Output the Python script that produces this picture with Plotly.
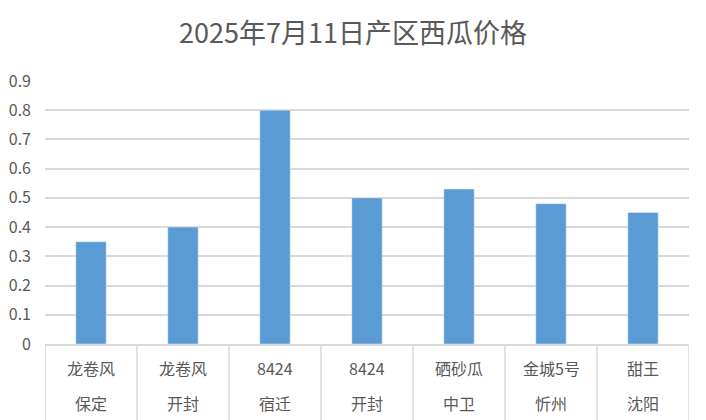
import plotly.graph_objects as go

# 数据
varieties = ['龙卷风', '龙卷风', '8424', '8424', '硒砂瓜', '金城5号', '甜王']
regions = ['保定', '开封', '宿迁', '开封', '中卫', '忻州', '沈阳']
prices = [0.35, 0.40, 0.80, 0.50, 0.53, 0.48, 0.45]
y_ticks = [0, 0.1, 0.2, 0.3, 0.4, 0.5, 0.6, 0.7, 0.8, 0.9]

font_name = 'Noto Sans CJK SC'
grey_text = '#595959'
grey_line = '#d9d9d9'

idx = list(range(len(prices)))

fig = go.Figure()
fig.add_trace(go.Bar(x=idx, y=prices, marker_color='#5b9bd5', width=0.33, hoverinfo='y'))

# 两行类别标签
for i in idx:
    fig.add_annotation(x=i, y=-0.09, xref='x', yref='paper', text=varieties[i], showarrow=False,
                       font=dict(family=font_name, size=16, color=grey_text), yanchor='middle')
    fig.add_annotation(x=i, y=-0.225, xref='x', yref='paper', text=regions[i], showarrow=False,
                       font=dict(family=font_name, size=16, color=grey_text), yanchor='middle')

# 类别分隔线
for i in range(len(prices) + 1):
    fig.add_shape(type='line', xref='x', yref='paper', x0=i - 0.5, x1=i - 0.5, y0=0, y1=-0.29,
                  line=dict(color=grey_line, width=1.5))

fig.update_layout(
    width=706, height=420,
    margin=dict(l=45, r=17, t=81, b=76),
    plot_bgcolor='white', paper_bgcolor='white',
    showlegend=False,
    title=dict(text='2025年7月11日产区西瓜价格', x=0.5, xanchor='center', y=0.92, yanchor='middle',
               font=dict(family=font_name, size=27, color=grey_text)),
    font=dict(family=font_name, color=grey_text),
)
fig.update_xaxes(range=[-0.5, len(prices) - 0.5], showticklabels=False, showgrid=False, zeroline=False,
                 showline=True, linecolor=grey_line, linewidth=1.5, automargin=False)
fig.update_yaxes(range=[0, 0.9], tickvals=y_ticks, ticktext=[f'{v:g}' for v in y_ticks],
                 showgrid=True, gridcolor=grey_line, gridwidth=1.5, zeroline=False, showline=False,
                 tickfont=dict(family=font_name, size=16, color=grey_text), ticklabelstandoff=13,
                 automargin=False)

fig.write_html('out.html', config={'displayModeBar': False},
               post_script="document.body.style.margin='0';")
